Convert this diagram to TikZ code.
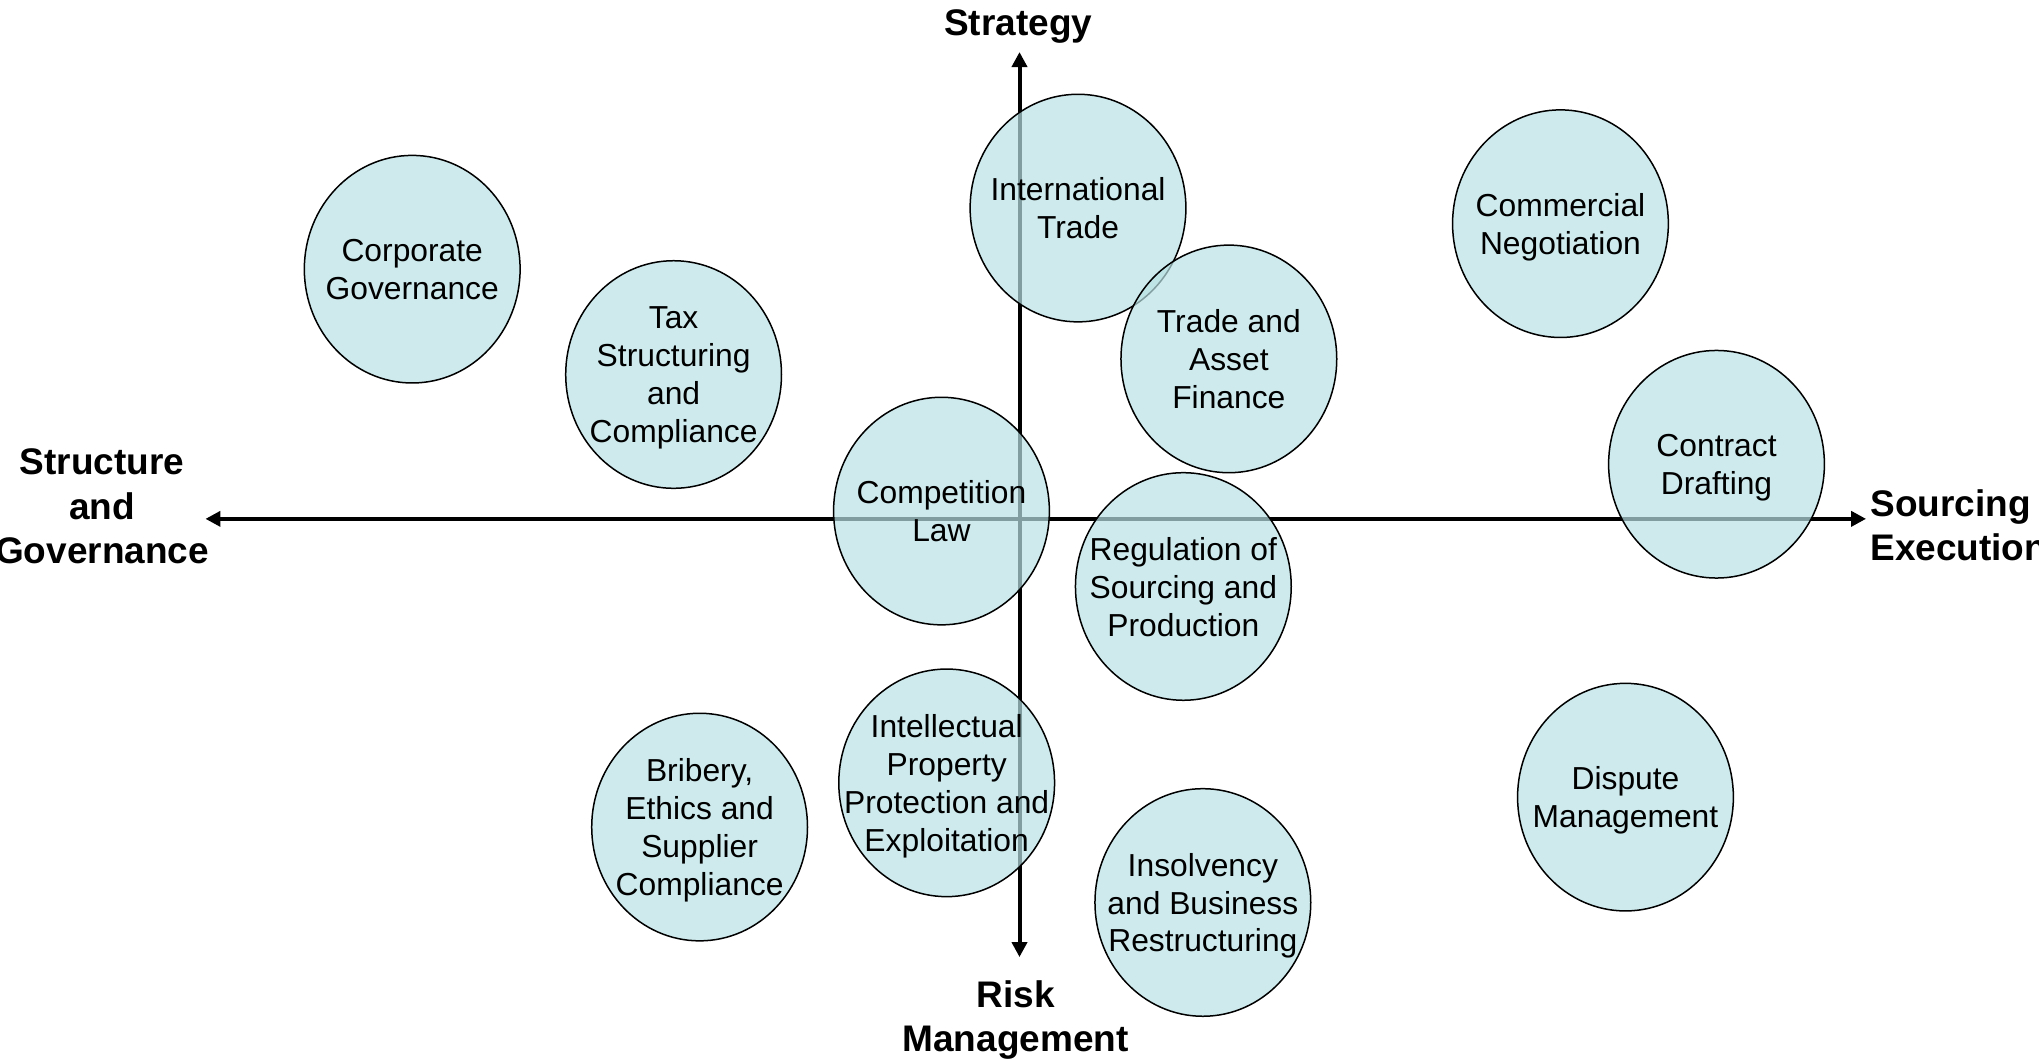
\documentclass[tikz,border=0pt]{standalone}
\usepackage{fontspec}
\setmainfont{Liberation Sans}
\usetikzlibrary{shapes.geometric,arrows.meta}
\definecolor{bub}{RGB}{185,225,228}
\begin{document}
\begin{tikzpicture}[x=0.6502pt,y=-0.6502pt,
  bubble/.style={ellipse,draw=black,line width=0.75pt,fill=bub,fill opacity=0.7,draw opacity=1,minimum width=107.9pt,minimum height=113.8pt,inner sep=0pt},
  btxt/.style={align=center,font=\fontsize{15.9}{19}\selectfont,inner sep=0pt,text depth=0pt},
  axlabel/.style={font=\fontsize{18.5}{22.1}\bfseries\selectfont,inner sep=0pt},
  axisline/.style={line width=2pt},
  tipstyle/.style={{Triangle[length=7.5pt,width=7.5pt]}-{Triangle[length=7.5pt,width=7.5pt]}}]
\useasboundingbox (0,0) rectangle (1568,815.15);
% axes
\coordinate (xl) at (158,399);
\coordinate (xr) at (1435,399);
\coordinate (yt) at (784,40);
\coordinate (yb) at (784,736);
\draw[axisline,tipstyle] (xl) -- (xr);
\draw[axisline,tipstyle] (yt) -- (yb);
% axis labels
\node[axlabel,anchor=base] (lstrat) at (783,27) {Strategy};
\node[axlabel,align=center,anchor=north] (lrisk) at (781,754) {Risk\\Management};
\node[axlabel,align=center,anchor=north] (lstruct) at (78.5,345) {Structure\\and\\Governance};
\node[axlabel,align=left,anchor=north west] (lsrc) at (1438,376) {Sourcing\\Execution};
% bubbles
\node[bubble] (cg) at (317,207) {};
\node[btxt] (cgt) at (cg) {Corporate\\Governance};
\node[bubble] (tax) at (518,288) {};
\node[btxt] (taxt) at (tax) {Tax\\Structuring\\and\\Compliance};
\node[bubble] (it) at (829,160) {};
\node[btxt] (itt) at (it) {International\\Trade};
\node[bubble] (taf) at (945,276) {};
\node[btxt] (taft) at (taf) {Trade and\\Asset\\Finance};
\node[bubble] (cn) at (1200,172) {};
\node[btxt] (cnt) at (cn) {Commercial\\Negotiation};
\node[bubble] (cd) at (1320,357) {};
\node[btxt] (cdt) at (cd) {Contract\\Drafting};
\node[bubble] (cl) at (724,393) {};
\node[btxt] (clt) at (cl) {Competition\\Law};
\node[bubble] (reg) at (910,451) {};
\node[btxt] (regt) at (reg) {Regulation of\\Sourcing and\\Production};
\node[bubble] (ip) at (728,602) {};
\node[btxt] (ipt) at (ip) {Intellectual\\Property\\Protection and\\Exploitation};
\node[bubble] (bri) at (538,636) {};
\node[btxt] (brit) at (bri) {Bribery,\\Ethics and\\Supplier\\Compliance};
\node[bubble] (ins) at (925,694) {};
\node[btxt] (inst) at (ins) {Insolvency\\and Business\\Restructuring};
\node[bubble] (dm) at (1250,613) {};
\node[btxt] (dmt) at (dm) {Dispute\\Management};
\end{tikzpicture}
\end{document}
